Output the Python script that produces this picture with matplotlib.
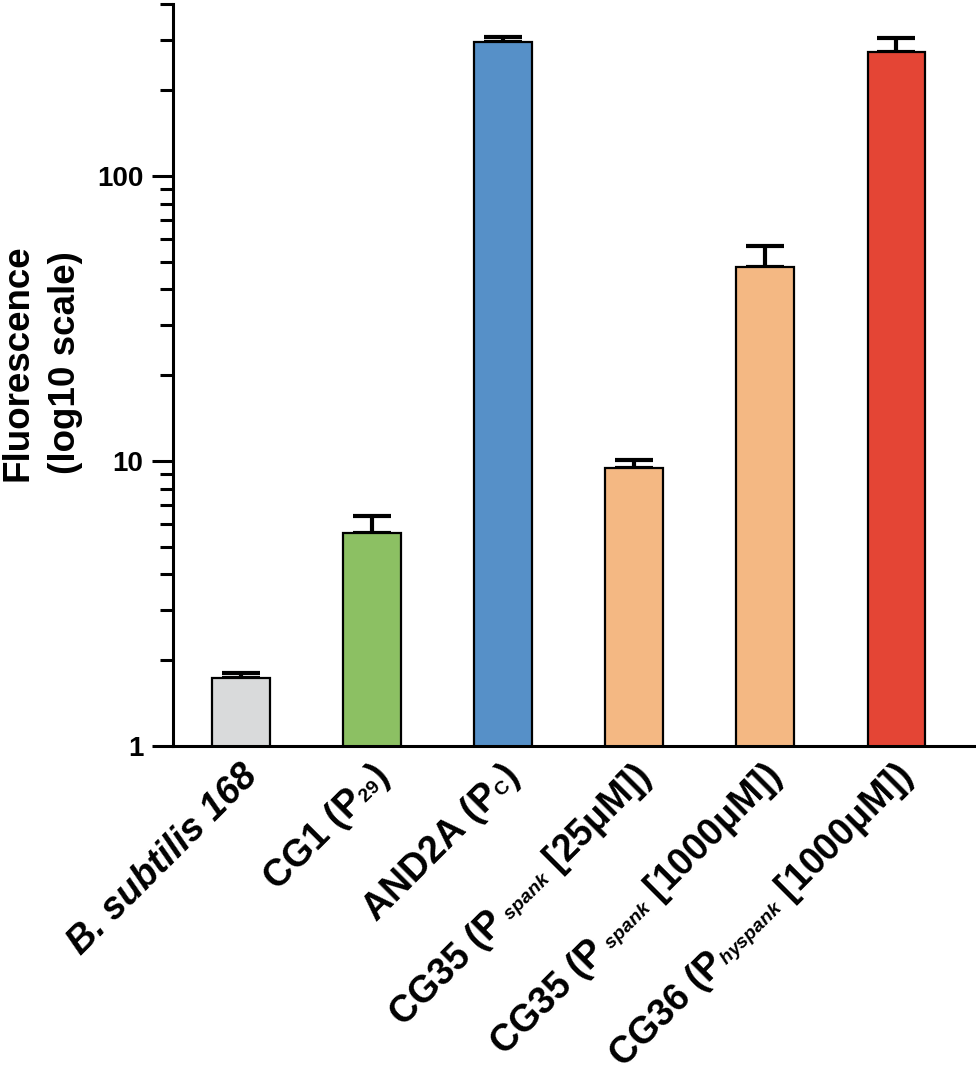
import numpy as np
import matplotlib
matplotlib.use('Agg')
import matplotlib.pyplot as plt
import matplotlib._mathtext as mathtext_impl
from matplotlib.transforms import ScaledTranslation

# 字体：Arial 风格粗体
plt.rcParams['font.family'] = ['Liberation Sans', 'DejaVu Sans']
plt.rcParams['font.weight'] = 'bold'
plt.rcParams['mathtext.fontset'] = 'custom'
plt.rcParams['mathtext.rm'] = 'Liberation Sans'
plt.rcParams['mathtext.it'] = 'Liberation Sans:italic'
plt.rcParams['mathtext.bf'] = 'Liberation Sans:bold'
plt.rcParams['mathtext.bfit'] = 'Liberation Sans:italic:bold'
# 下标缩小、基本贴着基线，和原图接近
mathtext_impl.SHRINK_FACTOR = 0.52
mathtext_impl.FontConstantsBase.sub1 = 0.0
mathtext_impl.FontConstantsBase.subdrop = 0.0

# 数据
strains = ['B. subtilis 168',
           r'CG1 (P$_{\mathrm{29}}$)',
           r'AND2A (P$_{\mathrm{C}}$)',
           r'CG35 (P$\,_{\mathbfit{spank}}$ [25$\mathrm{\mu}$M])',
           r'CG35 (P$\,_{\mathbfit{spank}}$ [1000$\mathrm{\mu}$M])',
           r'CG36 (P$_{\mathit{hyspank}}$ [1000$\mathrm{\mu}$M])']
fluor = [1.73, 5.59, 295, 9.45, 48.0, 272]
fluor_err = [0.07, 0.82, 12, 0.65, 8.8, 33]
bar_colors = ['#d9dadb', '#8cc063', '#5690c8', '#f4b883', '#f4b883', '#e44535']

fig = plt.figure(figsize=(9.76, 10.78), dpi=100)
ax = fig.add_axes([0.177, 0.308, 0.822, 0.688])

x = np.arange(len(strains))
ax.bar(x, fluor, width=0.44, color=bar_colors, edgecolor='black',
       linewidth=1.6, zorder=2)
ax.errorbar(x, fluor, yerr=[np.zeros(len(fluor)), fluor_err], fmt='none',
            ecolor='black', elinewidth=3, capsize=14, capthick=3, zorder=1)

ax.set_yscale('log')
ax.set_ylim(1, 400)
ax.set_xlim(-0.52, 5.6)

ax.set_yticks([1, 10, 100])
ax.set_yticklabels(['1', '10', '100'], fontsize=20, fontweight='bold')
minors = [v * d for d in (1, 10) for v in range(2, 10)] + [200, 300, 400]
ax.set_yticks(minors, minor=True)
ax.set_yticklabels([], minor=True)
ax.tick_params(axis='y', which='major', length=15, width=2.2, pad=6)
ax.tick_params(axis='y', which='minor', length=9.5, width=2.2)

ax.set_xticks(x)
ax.set_xticklabels(strains, rotation=45, ha='right', va='center',
                   rotation_mode='anchor', fontsize=27, fontweight='bold')
ax.tick_params(axis='x', length=0, pad=18)
ax.get_xticklabels()[0].set_fontstyle('italic')
for lab in ax.get_xticklabels():
    lab.set_transform(lab.get_transform() +
                      ScaledTranslation(8 / 72, 0, fig.dpi_scale_trans))

for side in ['top', 'right']:
    ax.spines[side].set_visible(False)
for side in ['left', 'bottom']:
    ax.spines[side].set_linewidth(2.2)

fig.text(0.043, 0.664, 'Fluorescence\n(log10 scale)', rotation=90,
         ha='center', va='center', fontsize=26.5, fontweight='bold',
         linespacing=1.45)

fig.savefig('out.png', dpi=100)
